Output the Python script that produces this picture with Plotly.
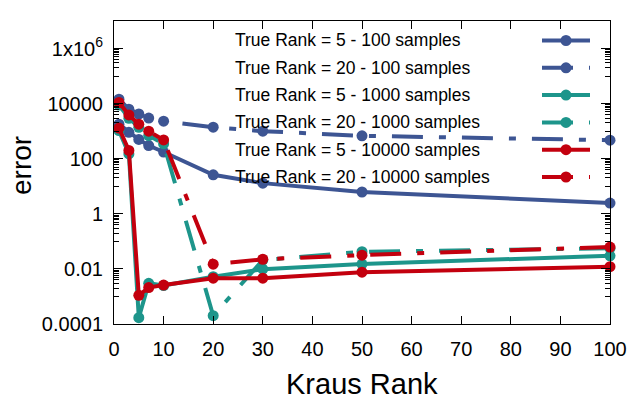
import plotly.graph_objects as go

# Kraus rank values (x axis)
kraus_rank = [1, 3, 5, 7, 10, 20, 30, 50, 100]

# error per run
err_r5_100 = [1800, 910, 500, 300, 175, 26, 13, 6.2, 2.45]
err_r20_100 = [14500, 6300, 4200, 3000, 2300, 1400, 1000, 680, 470]
err_r5_1000 = [1050, 150, 1.7e-4, 3.0e-3, 2.5e-3, 5.2e-3, 9.8e-3, 0.015, 0.030]
err_r20_1000 = [8900, 2950, 1380, 690, 350, 2.0e-4, 0.021, 0.042, 0.056]
err_r5_10000 = [1300, 200, 1.1e-3, 2.1e-3, 2.6e-3, 4.6e-3, 4.6e-3, 7.6e-3, 0.012]
err_r20_10000 = [11000, 3900, 1800, 1000, 480, 0.0148, 0.0224, 0.0316, 0.062]

names = ["True Rank = 5 - 100 samples", "True Rank = 20 - 100 samples",
         "True Rank = 5 - 1000 samples", "True Rank = 20 - 1000 samples",
         "True Rank = 5 - 10000 samples", "True Rank = 20 - 10000 samples"]

y_tickvals = [1e-4, 1e-2, 1, 100, 1e4, 1e6]
y_ticktext = ["0.0001", "0.01", "1", "100", "10000", "1x10<sup>6</sup>"]

BLUE = "#3d5593"
TEAL = "#1d958b"
RED = "#c3000e"
DASH = "31px,16px,7px,16px"
FONT = "Liberation Sans, Arial, sans-serif"

series = [
    (err_r5_100, BLUE, "solid"),
    (err_r20_100, BLUE, DASH),
    (err_r5_1000, TEAL, "solid"),
    (err_r20_1000, TEAL, DASH),
    (err_r5_10000, RED, "solid"),
    (err_r20_10000, RED, DASH),
]

fig = go.Figure()
for (vals, col, dash), nm in zip(series, names):
    fig.add_trace(go.Scatter(x=kraus_rank, y=vals, name=nm, mode="lines+markers",
                             line=dict(color=col, width=4, dash=dash),
                             marker=dict(color=col, size=11), showlegend=False,
                             cliponaxis=False))

# gnuplot style minor tics: m*10^(odd) between the 2-decade majors
minor_vals = []
for e in [-3, -1, 1, 3, 5]:
    for m in range(1, 10):
        minor_vals.append(m * 10.0 ** e)

# page body has an 8px margin, so work in page pixels and shift
OFF = 8
L, R, T, B = 114, 610, 21, 324
W, H = float(R - L), float(B - T)

def px(x):
    return (x - L) / W

def py(y):
    return (B - y) / H

# hand made key: text on the left, sample on the right
annots = []
shapes = []
for i, ((vals, col, dash), nm) in enumerate(zip(series, names)):
    yp = py(40.5 + 27.3 * i)
    annots.append(dict(x=px(233), y=yp, xref="paper", yref="paper", text=nm,
                       showarrow=False, xanchor="left", yanchor="middle",
                       font=dict(size=17.5, color="black", family=FONT)))
    shapes.append(dict(type="line", xref="paper", yref="paper",
                       x0=px(542), x1=px(590), y0=yp, y1=yp,
                       line=dict(color=col, width=4, dash=dash)))
    shapes.append(dict(type="circle", xref="paper", yref="paper",
                       xsizemode="pixel", ysizemode="pixel",
                       xanchor=px(566), yanchor=yp,
                       x0=-5.5, x1=5.5, y0=-5.5, y1=5.5,
                       fillcolor=col, line=dict(color=col, width=0)))

annots.append(dict(x=px(21), y=py(166), xref="paper", yref="paper",
                   text="error", textangle=-90, showarrow=False,
                   xanchor="center", yanchor="middle",
                   font=dict(size=28, color="black", family=FONT)))
annots.append(dict(x=px(362), y=py(384), xref="paper", yref="paper",
                   text="Kraus Rank", showarrow=False,
                   xanchor="center", yanchor="middle",
                   font=dict(size=29, color="black", family=FONT)))

fig.update_layout(
    width=640 - OFF, height=400 - OFF,
    margin=dict(l=L - OFF, r=640 - R, t=T - OFF, b=400 - B, pad=0),
    plot_bgcolor="white", paper_bgcolor="white",
    font=dict(family=FONT, size=20, color="black"),
    annotations=annots, shapes=shapes,
)
fig.update_xaxes(range=[0, 100], dtick=10, tick0=0, showgrid=False, zeroline=False,
                 showline=True, linecolor="black", linewidth=1, mirror="ticks",
                 ticks="inside", ticklen=8, tickcolor="black",
                 tickfont=dict(size=20), ticklabelstandoff=7)
fig.update_yaxes(type="log", range=[-4, 7], tickvals=y_tickvals, ticktext=y_ticktext,
                 showgrid=False, zeroline=False, showline=True, linecolor="black",
                 linewidth=1, mirror="ticks", ticks="inside", ticklen=9,
                 tickcolor="black", tickfont=dict(size=20), ticklabelstandoff=6,
                 minor=dict(tickvals=minor_vals, ticks="inside", ticklen=5,
                            tickcolor="black", showgrid=False))

fig.write_html("out.html")
